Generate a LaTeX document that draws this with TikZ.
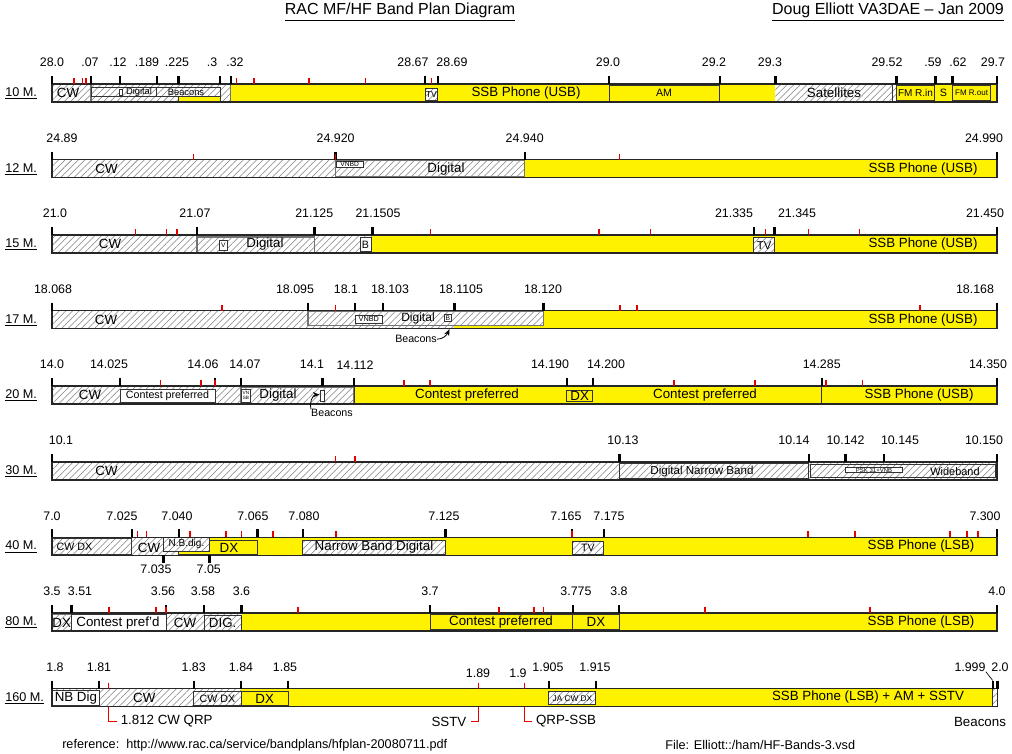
\documentclass[tikz,border=0pt]{standalone}
\usepackage{fontspec}
\setmainfont{Liberation Sans}
\usepackage{tikz}
\usetikzlibrary{patterns.meta,arrows.meta}

\begin{document}
\begin{tikzpicture}[x=0.75pt,y=-0.75pt,
	fs/.style={font=\fontsize{#1}{#1}\selectfont,inner sep=0pt}, fs/.default=10,
	lbl/.style={fs=9.3},
	rowlbl/.style={fs=9.5,anchor=west},
	hatch/.style={preaction={fill=white},pattern={Lines[angle=45,distance=3.5pt,line width=0.4pt]},pattern color=black!50},
	bar/.style={draw=black!85,line width=1.1pt},
	box/.style={draw=black!80,line width=0.7pt},
	dbox/.style={draw=black!55,line width=1.1pt},
	tk/.style={line width=1.8pt},
	rtk/.style={draw=red!90!black,line width=1.1pt},
	rlead/.style={draw=red!90!black,line width=1.1pt},
	arr/.style={-{Stealth[length=5pt,width=4pt]},line width=0.6pt}]
\useasboundingbox (0,0) rectangle (1012,753);
\node[fs=12] (title) at (400,12) {\underline{RAC MF/HF Band Plan Diagram}};
\node[fs=12] (author) at (888,12) {\underline{Doug Elliott VA3DAE \textendash{} Jan 2009}};
\node[fs=9.5,anchor=west] (ref) at (62,745) {reference:\ \ http://www.rac.ca/service/bandplans/hfplan-20080711.pdf};
\node[fs=9.5,anchor=west] (file) at (665,745) {File: Elliott::/ham/HF-Bands-3.vsd};
%
\begin{scope}[shift={(0,84)}]
\node[rowlbl] (m10) at (5,9.5) {\underline{10 M.}};
\fill[yellow] (230.7,0) rectangle (997,18);
\path[hatch] (52,0) rectangle (230.7,18);
\draw[dbox] (91,0.6) rectangle (230.7,17.4);
\draw[hatch,box] (91,3.5) rectangle (156.7,12.5);
\draw[hatch,box] (156.7,3.5) rectangle (220,12.5);
\draw[box,fill=yellow] (178,12.5) rectangle (220,18);
\draw[box,fill=white] (119,5) rectangle (122.3,11);
\draw[hatch,box] (425,4) rectangle (437.7,16.5);
\draw[box] (609,1) rectangle (719.7,17.5);
\path[hatch] (775.3,0) rectangle (892.5,18);
\draw[hatch,box] (892.5,0) rectangle (896.5,18);
\draw[box,fill=yellow] (896.5,1.5) rectangle (934.5,16.5);
\draw[box,fill=yellow] (952.4,1.5) rectangle (990.8,16.5);
\draw[bar] (52,0) rectangle (997,18);
\foreach \x/\lab/\lx [count=\i] in {52/28.0/52,91/.07/90,120/.12/118,156.7/.189/147,178.3/.225/177,220/.3/212,230.7/.32/235,425/28.67/413,437.7/28.69/452,609/29.0/608,719.7/29.2/714,775.3/29.3/770,896.5/29.52/887,935.6/.59/933,952.4/.62/958,997/29.7/993}
	{\draw[tk] (\x,-8) -- (\x,0); \node[lbl] (a\i) at (\lx,-21.5) {\lab};}
\foreach \x in {74,82.3,86,236.7,254,309,365.7,431.7} \draw[rtk] (\x,-6) -- (\x,0);
\node[fs] (cw10) at (68,9) {CW};
\node[fs=7] (dig10) at (139,8) {Digital};
\node[fs=7] (bcn10) at (186,8) {Beacons};
\node[fs=6.5] (tv10) at (431.3,10.3) {TV};
\node[fs] (ssb10) at (526,9) {SSB Phone (USB)};
\node[fs=8] (am10) at (664,9) {AM};
\node[fs] (sat10) at (834,9) {Satellites};
\node[fs=7.5] (fmi10) at (915.5,9) {FM R.in};
\node[fs=8] (s10) at (943.5,9) {S};
\node[fs=6] (fmo10) at (971.6,9) {FM R.out};
\end{scope}
%
\begin{scope}[shift={(0,159.6)}]
\node[rowlbl] (m12) at (5,9.5) {\underline{12 M.}};
\path[hatch] (52,0) rectangle (524.7,18);
\fill[yellow] (524.7,0) rectangle (997,18);
\draw[dbox] (335.6,0.6) rectangle (524.7,17.4);
\draw[box,fill=white] (336.5,1.5) rectangle (363,7.5);
\draw[bar] (52,0) rectangle (997,18);
\foreach \x/\lab/\lx [count=\i] in {52/24.89/62,335.6/24.920/335.6,524.7/24.940/524.7,997/24.990/984}
	{\draw[tk] (\x,-8) -- (\x,0); \node[lbl] (b\i) at (\lx,-21.5) {\lab};}
\foreach \x in {193.6,335.6,619.6} \draw[rtk] (\x,-6) -- (\x,0);
\node[fs] (cw12) at (106.5,9) {CW};
\node[fs=5] (vnbd12) at (349.7,4.6) {VNBD};
\node[fs] (dig12) at (446,9) {Digital};
\node[fs] (ssb12) at (923,9) {SSB Phone (USB)};
\end{scope}
%
\begin{scope}[shift={(0,235.1)}]
\node[rowlbl] (m15) at (5,9.5) {\underline{15 M.}};
\path[hatch] (52,0) rectangle (372.4,18);
\fill[yellow] (372.4,0) rectangle (997,18);
\draw[hatch,dbox] (196.8,2) rectangle (314.3,17.5);
\draw[box,fill=white] (219.4,5) rectangle (227.2,15);
\draw[box,fill=white] (360,2.5) rectangle (371,16.5);
\draw[hatch,box] (753.8,2.5) rectangle (774.5,17);
\draw[bar] (52,0) rectangle (997,18);
\foreach \x/\lab/\lx [count=\i] in {52/21.0/55,196.8/21.07/195,314.3/21.125/314.3,372.4/21.1505/378,753.8/21.335/734,774.5/21.345/797,997/21.450/985}
	{\draw[tk] (\x,-8) -- (\x,0); \node[lbl] (c\i) at (\lx,-21.5) {\lab};}
\foreach \x in {135.5,166.5,176.8,430.5,599,650.6,765.4,808.7,859.7} \draw[rtk] (\x,-6) -- (\x,0);
\node[fs] (cw15) at (110,9) {CW};
\node[fs=5] (v15) at (223.3,10) {V};
\node[fs] (dig15) at (265,9) {Digital};
\node[fs=8] (b15) at (365.5,9.5) {B};
\node[fs=8.5] (tv15) at (764.2,10) {TV};
\node[fs] (ssb15) at (923,9) {SSB Phone (USB)};
\end{scope}
%
\begin{scope}[shift={(0,310.7)}]
\node[rowlbl] (m17) at (5,9.5) {\underline{17 M.}};
\path[hatch] (52,0) rectangle (454.3,18);
\fill[yellow] (454.3,0) rectangle (997,18);
\draw[hatch,dbox] (308,1) rectangle (543.4,15);
\draw[box,fill=white] (355,4.5) rectangle (382.7,12.5);
\draw[box,fill=white] (444,3.5) rectangle (451.6,11);
\draw[bar] (52,0) rectangle (997,18);
\foreach \x/\lab/\lx [count=\i] in {52/18.068/53,308/18.095/295,355/18.1/346,382.7/18.103/390,454.3/18.1105/461,543.4/18.120/543,997/18.168/975}
	{\draw[tk] (\x,-8) -- (\x,0); \node[lbl] (d\i) at (\lx,-21.5) {\lab};}
\foreach \x in {222,335.6,620,637,920} \draw[rtk] (\x,-6) -- (\x,0);
\node[fs] (cw17) at (106,9) {CW};
\node[fs=5.5] (vnbd17) at (368.8,8.5) {VNBD};
\node[fs=9] (dig17) at (418,7.5) {Digital};
\node[fs=5] (b17) at (447.8,7.3) {B};
\node[fs] (ssb17) at (923,9) {SSB Phone (USB)};
\node[fs=8] (bcn17) at (416,28.5) {Beacons};
\coordinate (bt17) at (449.5,18.5);
\draw[arr] (bcn17.east) to[out=0,in=-115] (bt17);
\end{scope}
%
\begin{scope}[shift={(0,386.2)}]
\node[rowlbl] (m20) at (5,9.5) {\underline{20 M.}};
\path[hatch] (52,0) rectangle (354,18);
\fill[yellow] (354,0) rectangle (997,18);
\draw[box,fill=white] (120,2.8) rectangle (215,16);
\draw[hatch,dbox] (241,1.5) rectangle (354,17.5);
\draw[box,fill=white] (241,2.8) rectangle (250.7,16);
\draw[box,fill=white] (320.7,4.5) rectangle (324,15);
\draw[box] (354,0) rectangle (821.7,18);
\draw[box] (566.7,3.8) rectangle (592.7,15.5);
\draw[bar] (52,0) rectangle (997,18);
\foreach \x/\lab/\lx [count=\i] in {52/14.0/52,120/14.025/109,215/14.06/203,241/14.07/245,322.3/14.1/312,354/14.112/355,566.7/14.190/550,592.7/14.200/606,821.7/14.285/821.7,997/14.350/988}
	{\draw[tk] (\x,-8) -- (\x,0); \node[lbl] (e\i) at (\lx,-21.5) {\lab};}
\foreach \x in {160.7,201,215,404,430,674,755,826,862.7} \draw[rtk] (\x,-6) -- (\x,0);
\node[fs] (cw20) at (90,9) {CW};
\node[fs=8] (cp20) at (167.5,9.5) {Contest preferred};
\node[fs=3.5,align=center] (vn20) at (245.9,9.4) {VN\\SB};
\node[fs] (dig20) at (278,8.5) {Digital};
\node[fs] (cpa20) at (467,9) {Contest preferred};
\node[fs] (dx20) at (579.7,9.7) {DX};
\node[fs] (cpb20) at (705,9) {Contest preferred};
\node[fs] (ssb20) at (919,9) {SSB Phone (USB)};
\node[fs=8] (bcn20) at (332,27) {Beacons};
\coordinate (bt20) at (319.5,8.5);
\draw[arr] (bcn20.north west) to[out=110,in=180] (bt20);
\end{scope}
%
\begin{scope}[shift={(0,461.8)}]
\node[rowlbl] (m30) at (5,9.5) {\underline{30 M.}};
\path[hatch] (52,0) rectangle (997,18);
\draw[hatch,box] (619.6,1.6) rectangle (808.7,17);
\draw[box] (808.7,0.8) rectangle (997,17.2);
\draw[box] (810.5,2.5) rectangle (995,15.5);
\draw[box,fill=white] (845.5,5.5) rectangle (902.3,11);
\draw[bar] (52,0) rectangle (997,18);
\foreach \x/\lab/\lx [count=\i] in {52/10.1/61,619.6/10.13/623,808.7/10.14/794,845.5/10.142/845.5,884.2/10.145/900,997/10.150/984}
	{\draw[tk] (\x,-8) -- (\x,0); \node[lbl] (f\i) at (\lx,-21.5) {\lab};}
\foreach \x in {335.6,355} \draw[rtk] (\x,-6) -- (\x,0);
\node[fs] (cw30) at (106.5,9) {CW};
\node[fs=8.7] (dnb30) at (702,10) {Digital Narrow Band};
\node[fs=4.5] (psk30) at (874,8.3) {PSK 31+VNB};
\node[fs=8.2] (wb30) at (955,9.5) {Wideband};
\end{scope}
%
\begin{scope}[shift={(0,537.4)}]
\node[rowlbl] (m40) at (5,9.5) {\underline{40 M.}};
\path[hatch] (52,0) rectangle (178.7,18);
\fill[yellow] (178.7,0) rectangle (997,18);
\draw[hatch,box] (52,1) rectangle (131.7,17);
\draw[box] (178.7,2.6) rectangle (257.4,17);
\draw[hatch,box] (163.3,0.3) rectangle (209.6,13.6);
\draw[hatch,box] (302.9,2.6) rectangle (445.6,17);
\draw[hatch,box] (572,3.6) rectangle (603.8,17);
\draw[bar] (52,0) rectangle (997,18);
\foreach \x/\lab/\lx [count=\i] in {52/7.0/52,131.7/7.025/122,178.7/7.040/177,257.4/7.065/253,302.9/7.080/304,445.6/7.125/444,572/7.165/566,603.8/7.175/609,997/7.300/985}
	{\draw[tk] (\x,-8) -- (\x,0); \node[lbl] (g\i) at (\lx,-21.5) {\lab};}
\foreach \x/\lab/\lx [count=\i] in {163.3/7.035/156,209.6/7.05/208.8}
	{\draw[tk] (\x,18) -- (\x,26); \node[lbl] (gb\i) at (\lx,31.5) {\lab};}
\foreach \x in {137.6,146.7,190,226,241.6,272.8,336,572,808,855,950,967,978} \draw[rtk] (\x,-6) -- (\x,0);
\node[fs=8] (cwdx40) at (74.5,9) {CW DX};
\node[fs] (cw40) at (149,10.5) {CW};
\node[fs=7.5] (nbd40) at (186.5,7) {N.B.dig.};
\node[fs] (dx40) at (229,10.5) {DX};
\node[fs] (nbdg40) at (374,10) {Narrow Band Digital};
\node[fs=8] (tv40) at (588,10) {TV};
\node[fs] (ssb40) at (921,9) {SSB Phone (LSB)};
\end{scope}
%
\begin{scope}[shift={(0,612.9)}]
\node[rowlbl] (m80) at (5,9.5) {\underline{80 M.}};
\path[hatch] (52,0) rectangle (241.5,18);
\fill[yellow] (241.5,0) rectangle (997,18);
\draw[hatch,dbox] (52,1.7) rectangle (71.4,17.5);
\draw[box,fill=white] (71.4,1.7) rectangle (166,17.5);
\draw[hatch,box] (204,2.3) rectangle (241.5,17.5);
\draw[box] (430,1.7) rectangle (572.8,16.7);
\draw[box] (572.8,1.7) rectangle (619,16.7);
\draw[bar] (52,0) rectangle (997,18);
\foreach \x/\lab/\lx [count=\i] in {52/3.5/52,71.4/3.51/80,166/3.56/163,204/3.58/203,241.5/3.6/241.5,430/3.7/430,572.8/3.775/576,619/3.8/619,997/4.0/997}
	{\draw[tk] (\x,-8) -- (\x,0); \node[lbl] (h\i) at (\lx,-21.5) {\lab};}
\foreach \x in {109,156,166,298,499,534,543.7,705,870} \draw[rtk] (\x,-6) -- (\x,0);
\node[fs] (dx80) at (61.7,10) {DX};
\node[fs] (cp80) at (118,10) {Contest pref'd};
\node[fs] (cw80) at (185,10) {CW};
\node[fs] (dig80) at (222.7,10) {DIG.};
\node[fs] (cpa80) at (501,9.5) {Contest preferred};
\node[fs] (dxb80) at (595.9,9.5) {DX};
\node[fs] (ssb80) at (921,9) {SSB Phone (LSB)};
\end{scope}
%
\begin{scope}[shift={(0,688.5)}]
\node[rowlbl] (m160) at (5,9.5) {\underline{160 M.}};
\path[hatch] (52,0) rectangle (241.2,18);
\fill[yellow] (241.2,0) rectangle (992.7,18);
\path[hatch] (992.7,0) rectangle (997.3,18);
\draw[box,fill=white] (52.6,1.7) rectangle (99.2,17.3);
\draw[hatch,box] (193.7,3.3) rectangle (241.2,17.3);
\draw[box] (241.2,3.3) rectangle (288.2,17.3);
\draw[hatch,box] (548.8,3.3) rectangle (595.9,16);
\draw[box] (992.7,0) -- (992.7,18);
\draw[bar] (52,0) rectangle (997.3,18);
\foreach \x/\lab/\lx [count=\i] in {52/1.8/55,99.2/1.81/99,193.7/1.83/193.7,241.2/1.84/241,288.2/1.85/285,548.8/1.905/548,595.9/1.915/595,992.7/1.999/970,997.3/2.0/1000}
	{\draw[tk] (\x,-8) -- (\x,0); \node[lbl] (i\i) at (\lx,-21.5) {\lab};}
\draw[line width=0.5pt] (i8.south east) -- (992.7,-8);
\foreach \x/\lab/\lx [count=\i] in {478.4/1.89/478,524.7/1.9/518}
	{\draw[rtk] (\x,-6) -- (\x,0); \node[lbl] (ir\i) at (\lx,-15.5) {\lab};}
\draw[rtk] (108.7,-6) -- (108.7,0);
\node[fs] (nbd160) at (75.9,10) {NB Dig};
\node[fs] (cw160) at (144.3,9.5) {CW};
\node[fs=8] (cwdx160) at (217.5,10.5) {CW DX};
\node[fs] (dx160) at (264.7,10.5) {DX};
\node[fs=6.2] (ja160) at (572.4,9.7) {JA CW DX};
\node[fs] (ssb160) at (868,9) {SSB Phone (LSB) + AM + SSTV};
\node[fs] (bcn160) at (980,33) {Beacons};
\node[fs,anchor=west,inner sep=3pt] (qrp) at (116.5,33) {1.812 CW QRP};
\node[fs,anchor=east,inner sep=3pt] (sstv) at (470.6,33) {SSTV};
\node[fs,anchor=west,inner sep=3pt] (qrpssb) at (531.8,33) {QRP-SSB};
\coordinate (q1) at (108.7,18);
\coordinate (q2) at (478.4,18);
\coordinate (q3) at (524.7,18);
\draw[rlead] (q1) |- (qrp.west);
\draw[rlead] (q2) |- (sstv.east);
\draw[rlead] (q3) |- (qrpssb.west);
\end{scope}
\end{tikzpicture}
\end{document}
